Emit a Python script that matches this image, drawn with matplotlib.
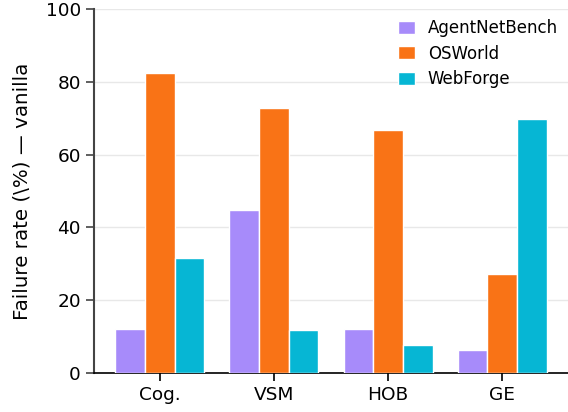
import matplotlib
matplotlib.use("Agg")
import matplotlib.pyplot as plt
import numpy as np

categories = ["Cog.", "VSM", "HOB", "GE"]
series_names = ["AgentNetBench", "OSWorld", "WebForge"]
agentnet = [12.1, 44.9, 12.1, 6.3]
osworld = [82.4, 72.9, 66.9, 27.3]
webforge = [31.7, 11.8, 7.8, 69.8]
colors = ["#a78bfa", "#f97316", "#06b6d4"]

fig = plt.figure(figsize=(5.68, 4.12), dpi=100)
ax = fig.add_axes([0.1655, 0.0947, 0.8345, 0.8833])

x = np.arange(len(categories))
w = 0.26
for i, (vals, name) in enumerate(zip([agentnet, osworld, webforge], series_names)):
    ax.bar(x + (i - 1) * w, vals, width=w, color=colors[i], edgecolor="white",
           linewidth=1.0, label=name, zorder=3)

fs = 13.3
ax.set_ylim(0, 100)
ax.set_xlim(-0.575, 3.575)
ax.set_xticks(x)
ax.set_xticklabels(categories, fontsize=fs)
ax.set_yticks([0, 20, 40, 60, 80, 100])
ax.tick_params(axis="y", labelsize=fs, length=6, width=1.2, color="#444444")
ax.tick_params(axis="x", length=6, width=1.2)
ax.set_ylabel("Failure rate (\\%) — vanilla", fontsize=14.3, labelpad=10)
ax.yaxis.grid(True, color="#e8e8e8", linewidth=1.0, zorder=0)
ax.set_axisbelow(True)
for s in ["top", "right"]:
    ax.spines[s].set_visible(False)
ax.spines["left"].set_color("#444444")
ax.spines["left"].set_linewidth(1.5)
ax.spines["bottom"].set_linewidth(1.2)

ax.legend(loc="upper right", frameon=False, fontsize=12, handlelength=1.0,
          handleheight=0.8, labelspacing=0.45, borderaxespad=0.2,
          bbox_to_anchor=(1.0, 1.0))

fig.savefig("out.png", dpi=100)
